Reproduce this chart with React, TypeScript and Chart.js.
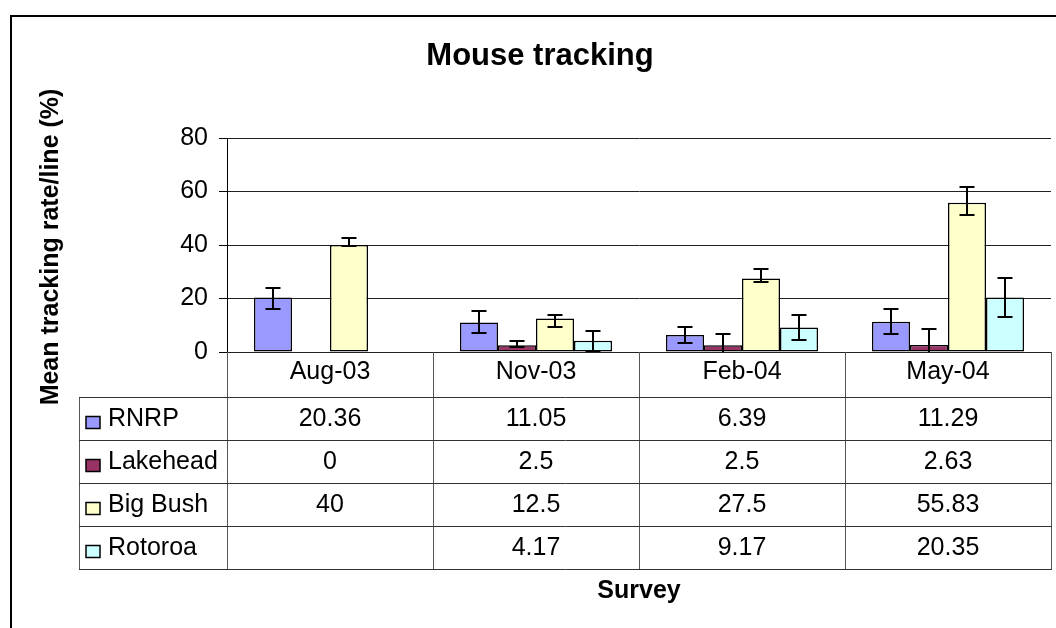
import React, { useEffect, useRef } from 'react';
import { Chart, registerables } from 'chart.js';

Chart.register(...registerables);

// ---- Data ----
const categories: string[] = ['Aug-03', 'Nov-03', 'Feb-04', 'May-04'];
const seriesNames: string[] = ['RNRP', 'Lakehead', 'Big Bush', 'Rotoroa'];
const rnrp: (number | null)[] = [20.36, 11.05, 6.39, 11.29];
const lakehead: (number | null)[] = [0, 2.5, 2.5, 2.63];
const bigBush: (number | null)[] = [40, 12.5, 27.5, 55.83];
const rotoroa: (number | null)[] = [null, 4.17, 9.17, 20.35];

// error bars (upper / lower extents)
const rnrpErrPlus: (number | null)[] = [3.7, 4.1, 3.0, 4.7];
const rnrpErrMinus: (number | null)[] = [4.2, 4.1, 2.9, 4.7];
const lakeheadErrPlus: (number | null)[] = [null, 1.6, 4.4, 6.0];
const lakeheadErrMinus: (number | null)[] = [null, 0.8, 4.4, 6.0];
const bigBushErrPlus: (number | null)[] = [2.8, 1.5, 3.7, 5.9];
const bigBushErrMinus: (number | null)[] = [0.2, 3.0, 1.5, 4.5];
const rotoroaErrPlus: (number | null)[] = [null, 3.8, 4.7, 7.5];
const rotoroaErrMinus: (number | null)[] = [null, 3.8, 4.7, 7.2];

const yMin = 0;
const yMax = 80;
const yStep = 20;

const chartTitle = 'Mouse tracking';
const yAxisTitle = 'Mean tracking rate/line (%)';
const xAxisTitle = 'Survey';

const seriesValues = [rnrp, lakehead, bigBush, rotoroa];
const errPlus = [rnrpErrPlus, lakeheadErrPlus, bigBushErrPlus, rotoroaErrPlus];
const errMinus = [rnrpErrMinus, lakeheadErrMinus, bigBushErrMinus, rotoroaErrMinus];
const seriesColors = ['#9999FF', '#993366', '#FFFFCC', '#CCFFFF'];

const FONT = '"Liberation Sans", Arial, sans-serif';

const errorBarPlugin = {
  id: 'errorBars',
  afterDatasetsDraw(chart: any) {
    const ctx = chart.ctx;
    const y = chart.scales.y;
    const a = chart.chartArea;
    ctx.save();
    ctx.beginPath();
    ctx.rect(a.left, a.top - 40, a.right - a.left, a.bottom - a.top + 40);
    ctx.clip();
    ctx.strokeStyle = '#000';
    ctx.lineWidth = 2;
    chart.data.datasets.forEach((ds: any, i: number) => {
      const meta = chart.getDatasetMeta(i);
      ds.data.forEach((v: number | null, j: number) => {
        const p = errPlus[i][j];
        const m = errMinus[i][j];
        if (v == null || p == null || m == null) return;
        const bar = meta.data[j];
        const x = Math.round(bar.x);
        const yt = Math.round(y.getPixelForValue(v + p));
        const yb = Math.round(y.getPixelForValue(v - m));
        const cap = 7.5;
        ctx.beginPath();
        ctx.moveTo(x, yt);
        ctx.lineTo(x, yb);
        ctx.moveTo(x - cap, yt);
        ctx.lineTo(x + cap, yt);
        ctx.moveTo(x - cap, yb);
        ctx.lineTo(x + cap, yb);
        ctx.stroke();
      });
    });
    ctx.restore();
  },
};

const decorPlugin = {
  id: 'decor',
  afterDraw(chart: any) {
    const ctx = chart.ctx;
    const a = chart.chartArea;
    const W = chart.width;
    const H = chart.height;
    ctx.save();

    // outer chart border (right/bottom outside the picture)
    ctx.strokeStyle = '#000';
    ctx.lineWidth = 2;
    ctx.beginPath();
    ctx.moveTo(11, H + 5);
    ctx.lineTo(11, 16);
    ctx.lineTo(W + 5, 16);
    ctx.stroke();

    // title
    ctx.fillStyle = '#000';
    ctx.textAlign = 'center';
    ctx.textBaseline = 'middle';
    ctx.font = `bold 31px ${FONT}`;
    ctx.fillText(chartTitle, 540, 56);

    // y axis title
    ctx.save();
    ctx.translate(51, (a.top + a.bottom) / 2 + 2);
    ctx.rotate(-Math.PI / 2);
    ctx.font = `bold 25px ${FONT}`;
    ctx.fillText(yAxisTitle, 0, 0);
    ctx.restore();

    // data table
    const top = a.bottom;
    const headerH = 45;
    const rowH = 43;
    const labelLeft = 79;
    const colW = (a.right - a.left) / categories.length;
    const bodyTop = top + headerH;
    const tableBottom = bodyTop + rowH * seriesNames.length;

    ctx.lineWidth = 1;
    ctx.strokeStyle = '#555';
    for (let i = 0; i <= categories.length; i++) {
      const x = Math.round(a.left + i * colW) + 0.5;
      ctx.beginPath();
      ctx.moveTo(x, top);
      ctx.lineTo(x, tableBottom);
      ctx.stroke();
    }
    ctx.beginPath();
    ctx.moveTo(labelLeft + 0.5, bodyTop);
    ctx.lineTo(labelLeft + 0.5, tableBottom);
    ctx.stroke();
    ctx.strokeStyle = '#333';
    for (let r = 0; r <= seriesNames.length; r++) {
      const yy = Math.round(bodyTop + r * rowH) + 0.5;
      ctx.beginPath();
      ctx.moveTo(labelLeft, yy);
      ctx.lineTo(Math.round(a.right) + 1, yy);
      ctx.stroke();
    }

    ctx.font = `25px ${FONT}`;
    ctx.fillStyle = '#000';
    ctx.textAlign = 'center';
    ctx.textBaseline = 'middle';
    categories.forEach((c, i) => {
      ctx.fillText(c, a.left + (i + 0.5) * colW, top + headerH / 2 - 2);
    });

    seriesNames.forEach((name, r) => {
      const cy = bodyTop + (r + 0.5) * rowH + 1;
      // legend key
      ctx.fillStyle = seriesColors[r];
      ctx.fillRect(86, cy - 3, 14, 12);
      ctx.strokeStyle = '#000';
      ctx.lineWidth = 1.5;
      ctx.strokeRect(86, cy - 3, 14, 12);
      ctx.fillStyle = '#000';
      ctx.textAlign = 'left';
      ctx.fillText(name, 108, cy);
      ctx.textAlign = 'center';
      seriesValues[r].forEach((v, j) => {
        if (v == null) return;
        ctx.fillText(String(v), a.left + (j + 0.5) * colW, cy);
      });
    });

    // x axis title
    ctx.font = `bold 25px ${FONT}`;
    ctx.textAlign = 'center';
    ctx.fillText(xAxisTitle, (a.left + a.right) / 2, 591);

    ctx.restore();
  },
};

export default function App() {
  const ref = useRef<HTMLCanvasElement | null>(null);

  useEffect(() => {
    if (!ref.current) return;
    Chart.defaults.font.family = FONT;
    const chart = new Chart(ref.current, {
      type: 'bar',
      data: {
        labels: categories,
        datasets: seriesNames.map((name, i) => ({
          label: name,
          data: seriesValues[i],
          backgroundColor: seriesColors[i],
          borderColor: '#000',
          borderWidth: 1.5,
          borderSkipped: false,
          categoryPercentage: 0.738,
          barPercentage: 1.0,
        })),
      },
      options: {
        animation: false,
        responsive: false,
        devicePixelRatio: 1,
        layout: { padding: { left: 0, top: 138, right: 5, bottom: 276 } },
        plugins: {
          legend: { display: false },
          tooltip: { enabled: false },
          title: { display: false },
        },
        scales: {
          x: { display: false },
          y: {
            min: yMin,
            max: yMax,
            ticks: {
              stepSize: yStep,
              color: '#000',
              padding: 11,
              font: { size: 25, family: FONT },
            },
            grid: {
              color: '#222',
              lineWidth: 1,
              tickLength: 8,
              tickColor: '#000',
              drawTicks: true,
            },
            border: { display: true, color: '#000', width: 1 },
            afterFit: (scale: any) => {
              scale.width = 227;
            },
          },
        },
      },
      plugins: [errorBarPlugin, decorPlugin],
    });
    return () => chart.destroy();
  }, []);

  return (
    <div style={{ position: 'fixed', left: 0, top: 0, width: 1056, height: 628, background: '#fff' }}>
      <canvas ref={ref} width={1056} height={628} style={{ width: 1056, height: 628, display: 'block' }} />
    </div>
  );
}
